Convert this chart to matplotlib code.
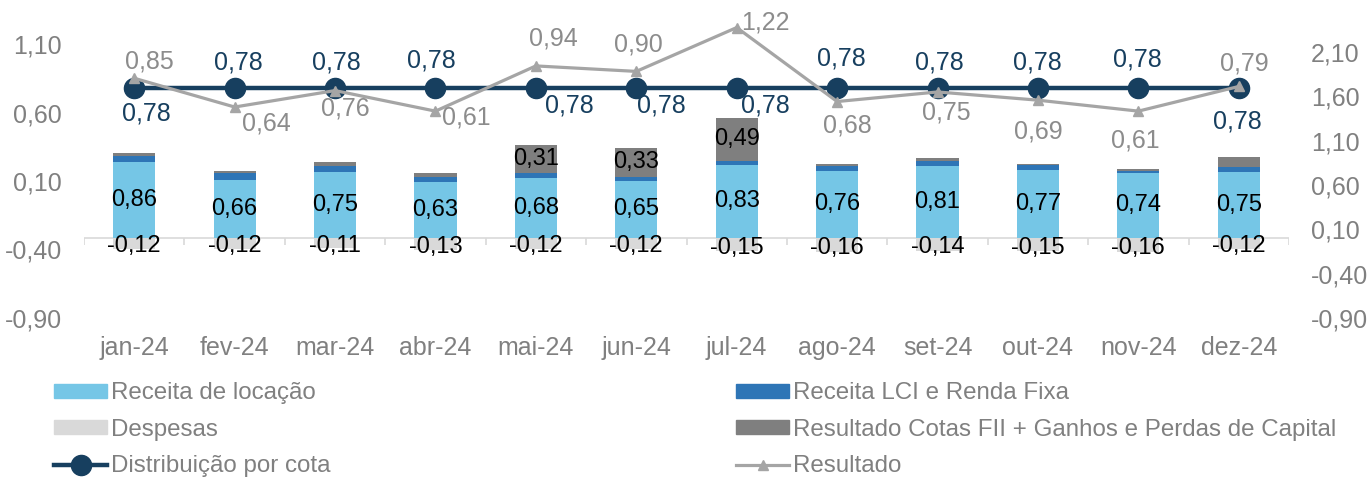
import numpy as np
import matplotlib.pyplot as plt
from matplotlib.patches import Patch
from matplotlib.lines import Line2D

meses = ['jan-24', 'fev-24', 'mar-24', 'abr-24', 'mai-24', 'jun-24',
         'jul-24', 'ago-24', 'set-24', 'out-24', 'nov-24', 'dez-24']
receita_locacao = [0.86, 0.66, 0.75, 0.63, 0.68, 0.65, 0.83, 0.76, 0.81, 0.77, 0.74, 0.75]
receita_lci = [0.07, 0.07, 0.06, 0.06, 0.06, 0.04, 0.04, 0.05, 0.06, 0.05, 0.02, 0.05]
resultado_fii = [0.03, 0.03, 0.05, 0.05, 0.31, 0.33, 0.49, 0.03, 0.03, 0.02, 0.02, 0.11]
despesas = [-0.12, -0.12, -0.11, -0.13, -0.12, -0.12, -0.15, -0.16, -0.14, -0.15, -0.16, -0.12]
distribuicao = [0.78, 0.78, 0.78, 0.78, 0.78, 0.78, 0.78, 0.78, 0.78, 0.78, 0.78, 0.78]
resultado = [0.85, 0.64, 0.76, 0.61, 0.94, 0.90, 1.22, 0.68, 0.75, 0.69, 0.61, 0.79]

ticks_esq = [-0.90, -0.40, 0.10, 0.60, 1.10]
ticks_dir = [-0.90, -0.40, 0.10, 0.60, 1.10, 1.60, 2.10]

# label offsets (pixels) for the line labels
off_dist = [(12, -26), (4, 25), (1, 25), (-4, 27), (33, -18), (25, -18),
            (29, -18), (4, 29), (2, 25), (-1, 25), (-1, 28), (-1, -34)]
off_res = [(15, 17), (32, -16), (10, -18), (31, -6), (18, 27), (2, 27),
           (29, 5), (10, -24), (9, -21), (0, -31), (-3, -29), (6, 23)]

c_loc = '#75C6E6'
c_lci = '#2E75B6'
c_fii = '#7F7F7F'
c_desp = '#D9D9D9'
c_dist = '#173F5F'
c_res = '#A5A5A5'
c_txt = '#808080'

num = ['Liberation Sans', 'DejaVu Sans']


def br(v):
    return '{:.2f}'.format(v).replace('.', ',')


fig = plt.figure(figsize=(13.67, 4.78), dpi=100)
ax = fig.add_axes([84 / 1367, 160 / 478, (1289 - 84) / 1367, 274 / 478])
ax2 = ax.twinx()
ax.set_zorder(ax2.get_zorder() + 1)
ax.patch.set_visible(False)

x = np.arange(len(meses))
w = 0.42
loc = np.array(receita_locacao)
lci = np.array(receita_lci)
fii = np.array(resultado_fii)

b1 = ax2.bar(x, loc, w, color=c_loc)
b2 = ax2.bar(x, lci, w, bottom=loc, color=c_lci)
b3 = ax2.bar(x, fii, w, bottom=loc + lci, color=c_fii)
b4 = ax2.bar(x, despesas, w, color=c_desp)

ax2.bar_label(b1, labels=[br(v) for v in loc], label_type='center',
              fontsize=17, family=num, color='black')
ax2.bar_label(b3, labels=[br(v) if v >= 0.2 else '' for v in fii], label_type='center',
              fontsize=17, family=num, color='black')
for i, v in enumerate(despesas):
    ax2.annotate(br(v), (x[i], v / 2), xytext=(0, -3), textcoords='offset pixels',
                 ha='center', va='center', fontsize=17, family=num, color='black')

# zero axis with category separators
ax2.axhline(0, color='#D9D9D9', lw=1.2, zorder=0.5)
ax2.vlines(np.arange(len(meses) + 1) - 0.5, -0.08, 0, color='#D9D9D9', lw=1.2, zorder=0.5)

ax.plot(x, distribuicao, color=c_dist, lw=3.2, marker='o', ms=14.5, zorder=3, clip_on=False)
ax.plot(x, resultado, color=c_res, lw=2.3, marker='^', ms=7, zorder=4, clip_on=False)

for i in range(len(meses)):
    ax.annotate(br(distribuicao[i]), (x[i], distribuicao[i]), xytext=off_dist[i],
                textcoords='offset pixels', ha='center', va='center', annotation_clip=False,
                fontsize=18, family=num, color=c_dist, zorder=5)
    ax.annotate(br(resultado[i]), (x[i], resultado[i]), xytext=off_res[i],
                textcoords='offset pixels', ha='center', va='center', annotation_clip=False,
                fontsize=18, family=num, color='#8C8C8C', zorder=5)

ax.set_xlim(-0.5, len(meses) - 0.5)
ax.set_ylim(-0.9, 1.1)
ax2.set_ylim(-0.9, -0.9 + 274 / 88.7)

ax.set_yticks(ticks_esq)
ax.set_yticklabels([br(v) for v in ticks_esq], family=num, fontsize=18, color=c_txt)
ax2.set_yticks(ticks_dir)
ax2.set_yticklabels([br(v) for v in ticks_dir], family=num, fontsize=18, color=c_txt)
ax.set_xticks(x)
ax.set_xticklabels(meses, family=num, fontsize=18, color=c_txt)
ax.tick_params(axis='both', length=0)
ax.tick_params(axis='y', pad=16)
ax.tick_params(axis='x', pad=13)
ax2.tick_params(axis='y', length=0, pad=16)

for a in (ax, ax2):
    for s in a.spines.values():
        s.set_visible(False)

h_left = [Patch(color=c_loc), Patch(color=c_desp),
          Line2D([], [], color=c_dist, lw=3.2, marker='o', ms=14.5)]
l_left = ['Receita de locação', 'Despesas', 'Distribuição por cota']
h_right = [Patch(color=c_lci), Patch(color=c_fii),
           Line2D([], [], color=c_res, lw=2.3, marker='^', ms=7)]
l_right = ['Receita LCI e Renda Fixa', 'Resultado Cotas FII + Ganhos e Perdas de Capital', 'Resultado']

leg_kw = dict(frameon=False, loc='upper left', borderpad=0, borderaxespad=0,
              handlelength=2.2, handleheight=0.5, handletextpad=0.16,
              labelspacing=0.6, prop={'family': num, 'size': 17.4},
              labelcolor=c_txt)
fig.legend(h_left, l_left, bbox_to_anchor=(54 / 1367, 0.200), **leg_kw)
fig.legend(h_right, l_right, bbox_to_anchor=(736 / 1367, 0.200), **leg_kw)

fig.savefig('out.png', dpi=100)
